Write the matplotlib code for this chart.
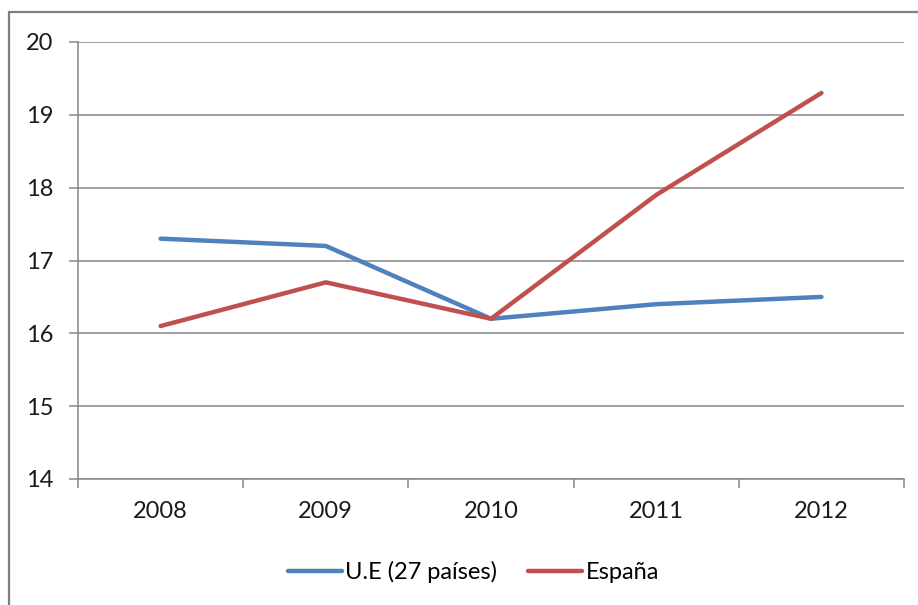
import matplotlib
matplotlib.use("Agg")
import matplotlib.pyplot as plt
from matplotlib.patches import Rectangle
from matplotlib.ticker import FixedLocator

# datos
anios = ["2008", "2009", "2010", "2011", "2012"]
ue27 = [17.3, 17.2, 16.2, 16.4, 16.5]
espana = [16.1, 16.7, 16.2, 17.9, 19.3]

plt.rcParams['font.family'] = ['Lato', 'DejaVu Sans']

W, H = 918, 605
fig = plt.figure(figsize=(W / 100, H / 100), dpi=100)

# marco gris del grafico (solo se ven borde izquierdo y superior)
fig.patches.append(Rectangle((9 / W, -0.1), 1.2, 1 - 12 / H + 0.1,
                             transform=fig.transFigure, fill=False,
                             edgecolor="#7f7f7f", linewidth=1.6))

ax = fig.add_axes([78 / W, 1 - 479 / H, (904 - 78) / W, (479 - 42) / H])

x = list(range(len(anios)))
ax.plot(x, ue27, color="#4F81BD", linewidth=3.2, solid_capstyle="round", label="U.E (27 países)")
ax.plot(x, espana, color="#C0504D", linewidth=3.2, solid_capstyle="round", label="España")

ax.set_xlim(-0.5, len(anios) - 0.5)
ax.set_ylim(14, 20)
ax.set_yticks(range(14, 21))
ax.grid(axis="y", color="#868686", linewidth=1.1)
ax.set_axisbelow(True)

ax.set_xticks(x)
ax.set_xticklabels(anios)
ax.xaxis.set_minor_locator(FixedLocator([i - 0.5 for i in range(len(anios) + 1)]))
ax.tick_params(axis="x", which="major", length=0, pad=16, labelsize=17, colors="#1a1a1a")
ax.tick_params(axis="x", which="minor", length=6.5, width=1.1, color="#868686")
ax.tick_params(axis="y", length=6.5, width=1.1, color="#868686", pad=11, labelsize=17,
               labelcolor="#1a1a1a")

for s in ["top", "right"]:
    ax.spines[s].set_visible(False)
for s in ["left", "bottom"]:
    ax.spines[s].set_color("#868686")
    ax.spines[s].set_linewidth(1.1)

fig.legend(loc="center", bbox_to_anchor=(473.5 / W, 1 - 572 / H), ncol=2, frameon=False,
           fontsize=17, handlelength=2.3, handletextpad=0.15, columnspacing=1.3)

fig.savefig("out.png", dpi=100)
